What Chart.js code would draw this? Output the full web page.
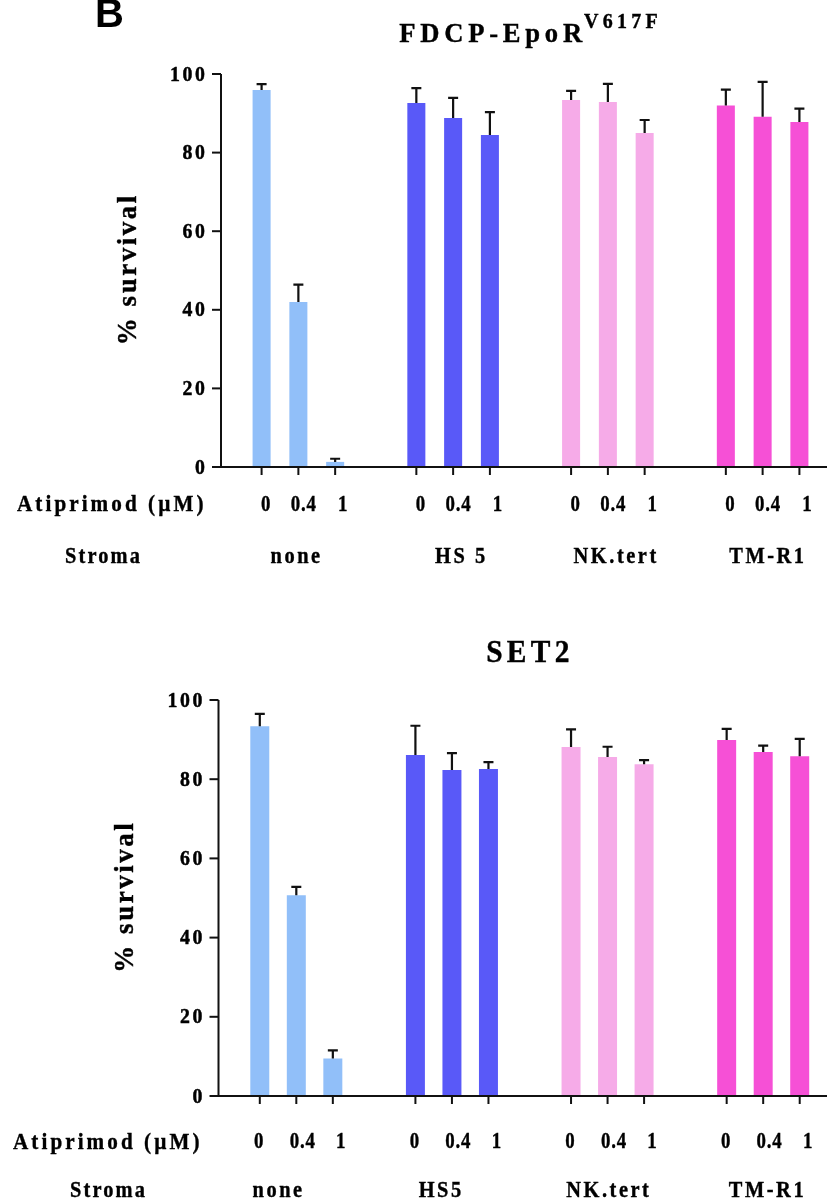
<!DOCTYPE html>
<html><head><meta charset="utf-8">
<script src="https://cdn.jsdelivr.net/npm/chart.js@4"></script>
<style>
html,body{margin:0;padding:0;background:#fff;overflow:hidden;width:827px;height:1203px;}
canvas{position:absolute;left:0;}
#c1{top:0}
#c2{top:600px}
</style></head><body>
<canvas id="c1" width="845" height="600"></canvas>
<canvas id="c2" width="845" height="603"></canvas>
<script>
// ---- data ----
const stromaTop = ['none','HS 5','NK.tert','TM-R1'];
const stromaBottom = ['none','HS5','NK.tert','TM-R1'];
const doses = ['0','0.4','1'];
const yTicks = [0,20,40,60,80,100];
// FDCP-EpoR V617F : mean % survival per stroma, one array per atiprimod dose
const fdcpDose0  = [95.9, 92.6, 93.4, 92.0];
const fdcpDose04 = [42.0, 88.8, 92.9, 89.1];
const fdcpDose1  = [1.3, 84.5, 85.0, 87.8];
const fdcpErr0   = [1.5, 3.8, 2.3, 4.0];
const fdcpErr04  = [4.4, 5.1, 4.6, 8.9];
const fdcpErr1   = [0.8, 5.8, 3.3, 3.4];
// SET2
const set2Dose0  = [93.4, 86.1, 88.1, 89.9];
const set2Dose04 = [50.7, 82.3, 85.6, 86.9];
const set2Dose1  = [9.5, 82.6, 83.8, 85.8];
const set2Err0   = [3.1, 7.4, 4.5, 2.8];
const set2Err04  = [2.1, 4.3, 2.6, 1.6];
const set2Err1   = [2.0, 1.7, 1.0, 4.4];
const stromaColors = ['#91BFF9','#5959F8','#F6ABE8','#F650D6'];

// ---- helpers ----
function drawText(ctx, s, x, y, o) {
  ctx.save();
  const ls = o.ls || 0;
  ctx.font = `bold ${o.size}px ${o.family || '"Liberation Serif"'}`;
  ctx.letterSpacing = ls + 'px';
  ctx.fillStyle = '#000';
  ctx.strokeStyle = '#000';
  ctx.textBaseline = o.baseline || 'middle';
  ctx.textAlign = 'left';
  const sx = o.sx || 1;
  const w = ctx.measureText(s).width - ls;
  ctx.translate(x, y);
  if (o.rot) ctx.rotate(o.rot);
  ctx.scale(sx, 1);
  const start = o.align === 'right' ? -w : (o.align === 'left' ? 0 : -w / 2);
  ctx.fillText(s, start, 0);
  if (o.stroke) { ctx.lineWidth = o.stroke; ctx.strokeText(s, start, 0); }
  ctx.restore();
  return w * sx;
}
function measure(ctx, s, o) {
  ctx.save();
  ctx.font = `bold ${o.size}px ${o.family || '"Liberation Serif"'}`;
  ctx.letterSpacing = (o.ls || 0) + 'px';
  const w = (ctx.measureText(s).width - (o.ls || 0)) * (o.sx || 1);
  ctx.restore();
  return w;
}

const panelPlugin = {
  id: 'panel',
  afterDraw(chart, args, p) {
    const ctx = chart.ctx;
    const ys = chart.scales.y;
    const ca = chart.chartArea;
    const y0 = ys.getPixelForValue(0);
    ctx.save();
    ctx.strokeStyle = '#111';
    ctx.lineWidth = 2.2;
    // error bars (upper only)
    chart.data.datasets.forEach((ds, di) => {
      const meta = chart.getDatasetMeta(di);
      meta.data.forEach((el, j) => {
        const top = ys.getPixelForValue(ds.data[j] + ds.errors[j]);
        ctx.beginPath();
        ctx.moveTo(el.x, el.y);
        ctx.lineTo(el.x, top);
        ctx.moveTo(el.x - 5, top);
        ctx.lineTo(el.x + 5, top);
        ctx.stroke();
      });
    });
    // axes
    ctx.lineWidth = 2;
    ctx.beginPath();
    ctx.moveTo(ca.left, ys.getPixelForValue(100));
    ctx.lineTo(ca.left, y0);
    ctx.moveTo(ca.left - 1, y0);
    ctx.lineTo(chart.width, y0);
    ctx.stroke();
    yTicks.forEach(v => {
      ctx.strokeStyle = '#111';
      ctx.lineWidth = 2;
      const y = ys.getPixelForValue(v);
      ctx.beginPath();
      ctx.moveTo(ca.left - 9, y);
      ctx.lineTo(ca.left, y);
      ctx.stroke();
      drawText(ctx, String(v), ca.left - 16, y + 1, {size: 22, ls: 3, sx: 0.9, align: 'right', stroke: 0.5});
    });
    // x ticks and dose labels under each bar
    chart.data.datasets.forEach((ds, di) => {
      const meta = chart.getDatasetMeta(di);
      meta.data.forEach((el) => {
        ctx.strokeStyle = '#111';
        ctx.lineWidth = 2;
        ctx.beginPath();
        ctx.moveTo(el.x, y0);
        ctx.lineTo(el.x, y0 + 8);
        ctx.stroke();
        drawText(ctx, doses[di], el.x + p.doseShift[di], y0 + p.doseDy, {size: 23, ls: 1, sx: 0.82, stroke: 0.4});
      });
    });
    // stroma names under groups (centre = middle bar)
    const mid = chart.getDatasetMeta(1);
    mid.data.forEach((el, j) => {
      drawText(ctx, chart.data.labels[j], el.x + p.stromaShift[j], y0 + p.stromaDy, {size: 24, ls: 3, sx: 0.85, stroke: 0.4});
    });
    // row headers
    drawText(ctx, 'Atiprimod (\u00B5M)', p.rowX1, y0 + p.doseDy, {size: 24, ls: 3.5, sx: 0.88, align: 'left', stroke: 0.4});
    drawText(ctx, 'Stroma', p.rowX2, y0 + p.stromaDy, {size: 24, ls: 2.5, sx: 0.85, align: 'left', stroke: 0.4});
    // y axis title
    drawText(ctx, '% survival', ca.left - 92, (ys.getPixelForValue(100) + y0) / 2, {size: 27, ls: 2.5, sx: 1, rot: -Math.PI / 2, stroke: 0.4});
    // title
    const cx = (ca.left + ca.right) / 2;
    const ty = ca.top - p.titleDy;
    const mo = {size: p.titleSize, ls: p.titleLs, sx: 0.95, baseline: 'alphabetic', stroke: 0.4};
    const so = {size: 21, ls: 4.5, sx: 0.95, baseline: 'alphabetic', stroke: 0.4};
    const w1 = measure(ctx, p.title, mo);
    const w2 = p.sup ? measure(ctx, p.sup, so) + 2 : 0;
    const sx0 = cx - (w1 + w2) / 2 + p.titleShift;
    drawText(ctx, p.title, sx0, ty, Object.assign({align: 'left'}, mo));
    if (p.sup) drawText(ctx, p.sup, sx0 + w1 + 2, ty - 14, Object.assign({align: 'left'}, so));
    if (p.letter) drawText(ctx, p.letter, 95, 27, {size: 40, family: '"Liberation Sans"', baseline: 'alphabetic', align: 'left'});
    ctx.restore();
  }
};

function makeChart(id, labels, means, errs, p) {
  return new Chart(document.getElementById(id), {
    type: 'bar',
    data: {
      labels: labels,
      datasets: means.map((m, i) => ({
        label: doses[i], data: m, errors: errs[i],
        backgroundColor: stromaColors, borderWidth: 0,
        categoryPercentage: p.catPct, barPercentage: p.barPct
      }))
    },
    options: {
      responsive: false, animation: false,
      layout: {padding: p.padding},
      scales: {x: {display: false}, y: {display: false, min: 0, max: 100}},
      plugins: {legend: {display: false}, tooltip: {enabled: false}, panel: p}
    },
    plugins: [panelPlugin]
  });
}

makeChart('c1', stromaTop, [fdcpDose0, fdcpDose04, fdcpDose1], [fdcpErr0, fdcpErr04, fdcpErr1], {
  padding: {left: 221, top: 74, right: 5, bottom: 133},
  catPct: 0.713, barPct: 0.49,
  doseShift: [4, 5, 7.5], doseDy: 38,
  stromaShift: [-3, 7, 7, 4], stromaDy: 90,
  rowX1: 17, rowX2: 65,
  title: 'FDCP-EpoR', sup: 'V617F', titleSize: 28, titleLs: 5, titleDy: 32, titleShift: -2, letter: 'B'
});
makeChart('c2', stromaBottom, [set2Dose0, set2Dose04, set2Dose1], [set2Err0, set2Err04, set2Err1], {
  padding: {left: 218.5, top: 100, right: 4, bottom: 107},
  catPct: 0.704, barPct: 0.52,
  doseShift: [-1, 6, 8], doseDy: 46.5,
  stromaShift: [-19, -12, 0, 3], stromaDy: 94.5,
  rowX1: 13, rowX2: 70,
  title: 'SET2', sup: '', titleSize: 31, titleLs: 4.5, titleDy: 38, titleShift: -2, letter: ''
});
</script>
</body></html>
